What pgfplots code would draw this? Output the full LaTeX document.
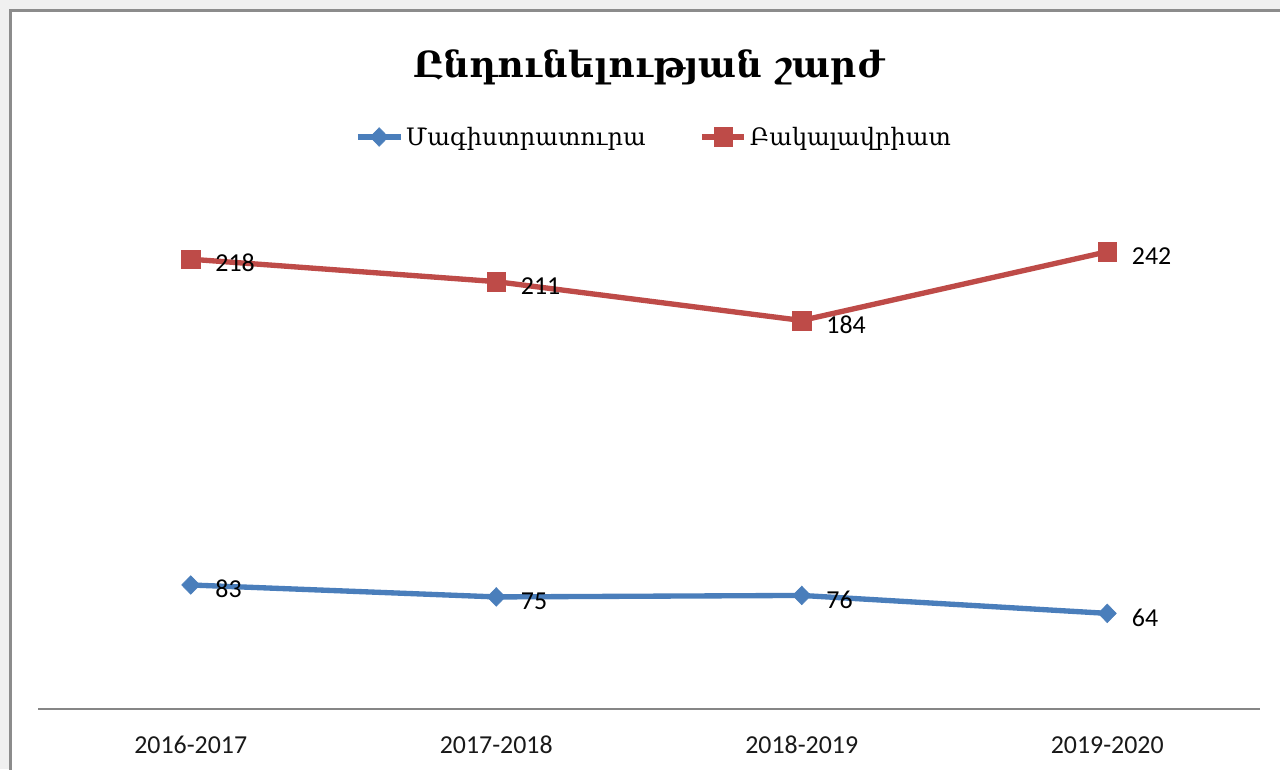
\documentclass[border=0pt]{standalone}
\usepackage{fontspec}
\usepackage{pgfplots}
\pgfplotsset{compat=1.18}
\setmainfont{Carlito}
\newfontfamily\armfont{DejaVu Serif}
\definecolor{serblue}{HTML}{4A7EBB}
\definecolor{serred}{HTML}{BE4B48}
\definecolor{bggray}{HTML}{F0F0F0}
\definecolor{framegray}{HTML}{8C8C8C}
\definecolor{axgray}{HTML}{868686}

\begin{document}
\begin{tikzpicture}
% 1 px of the reference = 0.75pt
\path[use as bounding box, clip] (0,0) rectangle (960pt,576.75pt);
\begin{scope}[x=0.75pt,y=0.75pt]
  \fill[bggray] (0,0) rectangle (1280,769);
  \draw[fill=white, draw=framegray, line width=2pt] (10.5,-20) rectangle (1300,758.5);
\end{scope}
\begin{axis}[
  at={(28.5pt,45pt)}, anchor=south west,
  scale only axis, width=916.5pt, height=392.25pt,
  xmin=-0.5, xmax=3.5, ymin=0, ymax=350,
  axis x line*=bottom, axis y line=none,
  x axis line style={axgray, line width=1.5pt},
  xtick={0,1,2,3},
  xticklabels={2016-2017,2017-2018,2018-2019,2019-2020},
  ytick=\empty, major tick length=0pt,
  xticklabel style={font=\fontsize{19.4}{23}\selectfont, text=black!90, anchor=center, yshift=-27pt},
  /pgf/number format/assume math mode=true,
  clip=false,
  stack plots=y,
  point meta=explicit,
  nodes near coords,
  nodes near coords style={font=\fontsize{19.4}{23}\selectfont, text=black, anchor=west, xshift=15pt, yshift=-3pt},
  title={\armfont\bfseries Ընդունելության շարժ},
  title style={at={(0.5,1)}, anchor=center, yshift=83.25pt, font=\fontsize{27}{32}\selectfont},
  legend columns=2,
  legend cell align=left,
  legend style={at={(0.5,1)}, anchor=center, xshift=4pt, yshift=36.75pt, draw=none, fill=none,
    font=\armfont\fontsize{18}{22}\selectfont,
    /tikz/every even column/.append style={column sep=38pt}},
  legend image code/.code={\draw[mark repeat=2, mark phase=2, #1] plot coordinates {(0pt,0pt) (16pt,0pt) (32pt,0pt)};},
]
\addplot[serblue, line width=4pt, mark=diamond*, mark size=7pt,
  mark options={solid, line width=0.4pt, xscale=1.3}]
  coordinates {(0,83) [83] (1,75) [75] (2,76) [76] (3,64) [64]};
\addlegendentry{Մագիստրատուրա}
\addplot[serred, line width=4pt, mark=square*, mark size=7pt,
  mark options={solid, line width=0.4pt}]
  coordinates {(0,218) [218] (1,211) [211] (2,184) [184] (3,242) [242]};
\addlegendentry{Բակալավրիատ}
\end{axis}
\end{tikzpicture}
\end{document}
